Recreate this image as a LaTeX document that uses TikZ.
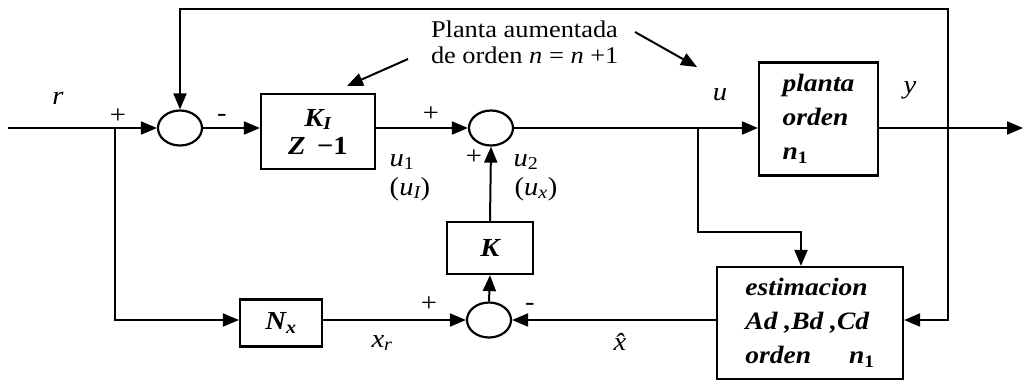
\documentclass[tikz,border=0pt]{standalone}
\usepackage{fontspec}
\setmainfont[FakeStretch=1.1]{Liberation Serif}
\usetikzlibrary{arrows.meta,shapes.geometric}
\begin{document}
\begin{tikzpicture}[x=1pt,y=-1pt,line width=2pt,
  arr/.style={-{Triangle[length=16pt,width=13pt]}},
  blk/.style={draw,rectangle,line width=2.2pt,inner sep=0pt},
  sumn/.style={draw,ellipse,minimum width=44pt,minimum height=35pt,inner sep=0pt,line width=2.2pt},
  lbl/.style={inner sep=0pt,font=\fontsize{26}{28}\selectfont\itshape},
  sgn/.style={inner sep=0pt,font=\fontsize{26}{28}\selectfont},
  btxt/.style={font=\fontsize{25}{34}\selectfont\bfseries\itshape,align=left}]
\useasboundingbox (0,0) rectangle (1023,381);
% blocks
\node[sumn] (s1) at (180,128) {};
\node[sumn] (s2) at (491,128) {};
\node[sumn] (s3) at (489,320) {};
\node[blk,minimum width=114pt,minimum height=75pt,font=\fontsize{26}{30}\selectfont\bfseries\itshape,align=center] (KI) at (318,131.5) {K\textsubscript{\textit{I}}\\[-2pt]Z \,{\upshape\textminus1}};
\node[blk,minimum width=119pt,minimum height=113pt,btxt] (planta) at (818.5,119) {planta\\orden\\n\textsubscript{\upshape 1}};
\node[blk,minimum width=186pt,minimum height=112pt,btxt] (estim) at (810,323) {estimacion\\Ad ,Bd ,Cd\\orden\hspace{38pt}n\textsubscript{\upshape 1}};
\node[blk,minimum width=86pt,minimum height=52pt,font=\fontsize{26}{28}\selectfont\bfseries\itshape] (K) at (490,248) {K};
\node[blk,minimum width=82pt,minimum height=47pt,font=\fontsize{26}{28}\selectfont\bfseries\itshape] (Nx) at (281,323) {N\textsubscript{x}};
% coordinates
\coordinate (start) at (8,128);
\coordinate (j) at (115,128);
\coordinate (j2) at (115,320);
\coordinate (fb) at (948,128);
\coordinate (tr) at (948,9);
\coordinate (tl) at (180,9);
\coordinate (rb) at (948,320);
\coordinate (b) at (698,128);
\coordinate (b2) at (698,232);
\coordinate (b3) at (801,232);
\coordinate (out) at (1023,128);
% connectors
\draw[arr] (start) -- (s1.west);
\draw[arr] (j) -- (j2) -- (Nx.west |- j2);
\draw[arr] (s1.east) -- (KI.west |- s1);
\draw[arr] (KI.east |- s2) -- (s2.west);
\draw[arr] (s2.east) -- (planta.west |- s2);
\draw[arr] (planta.east |- s2) -- (out);
\draw[arr] (fb) -- (tr) -- (tl) -- (s1.north);
\draw[arr] (fb) -- (rb) -- (estim.east |- rb);
\draw[arr] (b) -- (b2) -- (b3) -- (b3 |- estim.north);
\draw[arr] (Nx.east |- s3) -- (s3.west);
\draw[arr] (estim.west |- s3) -- (s3.east);
\draw[arr] (s3.north) -- (K.south);
\draw[arr] (K.north) -- (s2.south);
% annotation
\node[anchor=north west,inner sep=0pt,align=left,font=\fontsize{24}{26}\selectfont] (ann) at (430,20) {Planta aumentada\\de orden \textit{n} = \textit{n} +1};
\coordinate (a1) at (347,86);
\coordinate (a2) at (697,67);
\draw[arr] (408,59) -- (a1);
\draw[arr] (635,32) -- (a2);
% labels
\node[lbl] (lr) at (58,98) {r};
\node[sgn] (p1) at (118,116) {+};
\node[sgn] (m1) at (222,118) {-};
\node[sgn] (p2) at (431,114) {+};
\node[sgn] (p3) at (474,157) {+};
\node[lbl] (lu1) at (402,162) {u\textsubscript{\upshape 1}};
\node[lbl] (luI) at (410,189) {\upshape(\itshape u\textsubscript{I}\upshape)};
\node[lbl] (lu2) at (526,162) {u\textsubscript{\upshape 2}};
\node[lbl] (lux) at (536,189) {\upshape(\itshape u\textsubscript{x}\upshape)};
\node[lbl] (lu) at (720,95) {u};
\node[lbl] (ly) at (910,90) {y};
\node[sgn] (p4) at (429,304) {+};
\node[sgn] (m2) at (530,307) {-};
\node[lbl] (lxr) at (382,343) {x\textsubscript{r}};
\node[lbl] (lxh) at (620,342) {\^{x}};
\end{tikzpicture}
\end{document}
